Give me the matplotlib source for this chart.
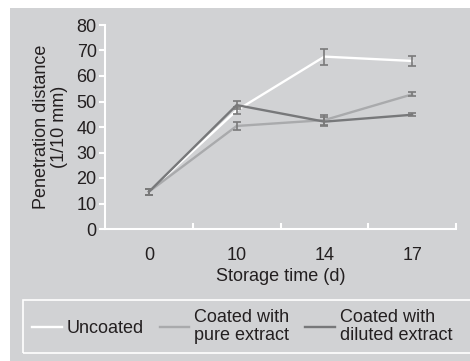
import matplotlib.pyplot as plt
import numpy as np
from matplotlib.patches import Rectangle

plt.rcParams['font.family'] = ['Liberation Sans', 'DejaVu Sans']

days = ["0", "10", "14", "17"]
uncoated = [14.6, 46.5, 67.6, 65.9]
uncoated_err = [1.2, 1.5, 3.1, 1.9]
pure = [14.6, 40.4, 42.7, 52.8]
pure_err = [1.2, 1.4, 2.0, 0.8]
diluted = [14.6, 48.6, 42.1, 44.8]
diluted_err = [1.2, 1.6, 1.8, 0.6]

bg = "#d1d2d4"
err_col = "#7a7a7a"
txt = "#231f20"

fig = plt.figure(figsize=(4.7, 3.61), dpi=100)
fig.patch.set_facecolor("white")
fig.patches.append(Rectangle((10 / 470, 0), 1, 1 - 8 / 361, transform=fig.transFigure,
                             facecolor=bg, edgecolor="none", zorder=-10))
# legend frame (runs past the right edge, as in the original)
fig.patches.append(Rectangle((23 / 470, 1 - 353 / 361), 1, 53 / 361, transform=fig.transFigure,
                             facecolor="none", edgecolor="white", lw=1.2, zorder=-5))

ax = fig.add_axes([105 / 470, 1 - 229 / 361, (456 - 105) / 470, (229 - 25) / 361])
ax.set_facecolor(bg)

x = np.arange(len(days))
series = [
    (uncoated, uncoated_err, "white", "Uncoated"),
    (pure, pure_err, "#a9aaac", "Coated with\npure extract"),
    (diluted, diluted_err, "#77787a", "Coated with\ndiluted extract"),
]
handles = []
for vals, errs, col, lab in series:
    h, = ax.plot(x, vals, color=col, lw=1.7, label=lab, zorder=3)
    ax.errorbar(x, vals, yerr=errs, fmt="none", ecolor=err_col, elinewidth=1.2,
                capsize=3, capthick=1.2, zorder=4)
    handles.append(h)

ax.set_xlim(-0.5, 3.5)
ax.set_ylim(0, 80)
ax.set_xticks(x)
ax.set_xticklabels(days, fontsize=13, color=txt)
ax.set_xticks([0.5, 1.5, 2.5, 3.5], minor=True)
ax.tick_params(axis="x", which="major", length=0, pad=13)
ax.tick_params(axis="x", which="minor", direction="in", length=4, width=1.5, color="white")
ax.set_yticks(np.arange(0, 81, 10))
ax.tick_params(axis="y", direction="out", length=4, width=1.5, color="white",
               labelsize=13, labelcolor=txt, pad=2)

for s in ["top", "right"]:
    ax.spines[s].set_visible(False)
for s in ["left", "bottom"]:
    ax.spines[s].set_color("white")
    ax.spines[s].set_linewidth(1.5)

ax.set_xlabel("Storage time (d)", fontsize=13, color=txt, labelpad=3)
ax.set_ylabel("Penetration distance\n(1/10 mm)", fontsize=13, color=txt,
              labelpad=6, linespacing=1.05)

leg = fig.legend(handles=handles, loc="center left",
                 bbox_to_anchor=(23 / 470, 1 - 326.5 / 361),
                 ncol=3, frameon=False, fontsize=13, handlelength=1.65, handletextpad=0.25,
                 columnspacing=0.9, borderpad=0.5, borderaxespad=0, labelspacing=0.2)
for t in leg.get_texts():
    t.set_color(txt)
    t.set_linespacing(1.05)

fig.savefig("out.png", dpi=100, facecolor=fig.get_facecolor())
